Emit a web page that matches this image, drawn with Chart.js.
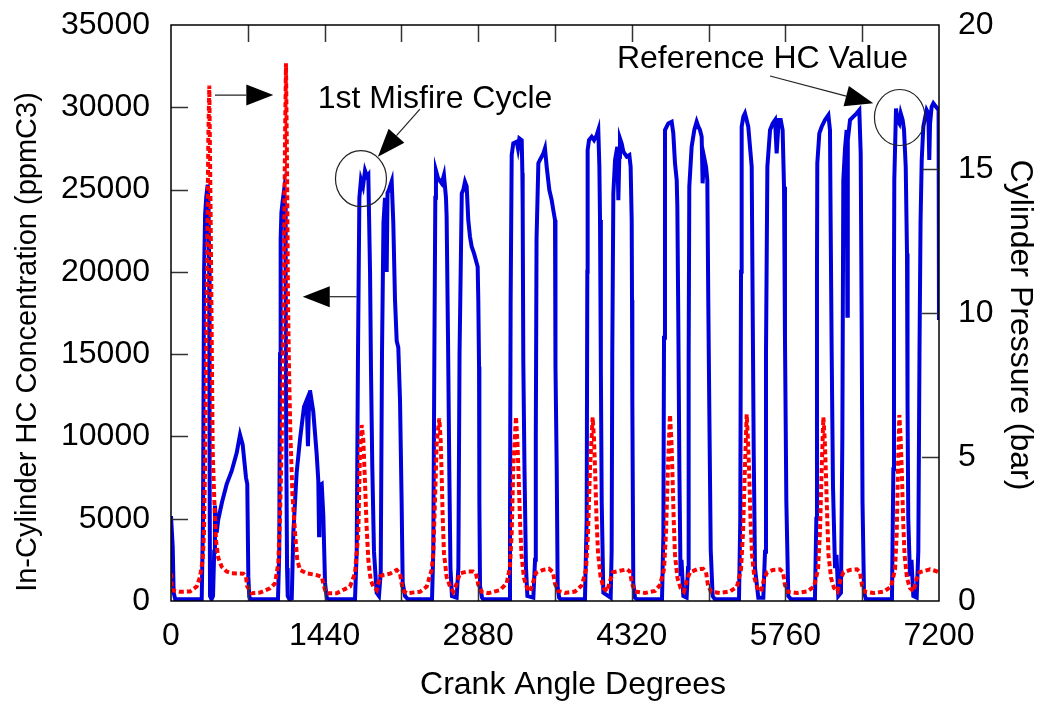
<!DOCTYPE html>
<html>
<head>
<meta charset="utf-8">
<script src="https://cdn.jsdelivr.net/npm/chart.js@4.4.1/dist/chart.umd.min.js"></script>
<style>
  html, body { margin: 0; padding: 0; background: #fff; }
</style>
</head>
<body>
<canvas id="hcChart" width="1039" height="703"></canvas>
<script>
"use strict";

// HC concentration trace [crank angle deg, ppmC3]
const hcPoints = [
  [0,5160],[16,3300],[25,500],[40,100],[288,100],[300,5000],[310,20000],[320,23500],[330,24500],[344,25300],[352,24000],[358,20000],[362,8000],[366,300],[380,100],[394,300],[405,3000],[412,5800],[428,4150],[443,4950],[478,6000],[522,7100],[569,7900],[616,9000],[647,10100],[672,9500],[703,7500],[715,7100],[725,1480],[734,250],[750,100],
  [1003,100],[1015,3000],[1022,15000],[1028,22000],[1035,23600],[1045,24200],[1059,24900],[1069,24000],[1075,20000],[1080,10000],[1088,2000],[1094,300],[1110,100],[1132,150],[1147,4150],[1178,7800],[1209,9800],[1247,11800],[1272,12200],[1284,9400],[1294,12000],[1303,12800],[1334,11500],[1366,8900],[1381,7300],[1388,4000],[1392,7000],[1413,7100],[1428,5200],[1444,1100],[1460,200],[1480,100],
  [1725,100],[1741,3000],[1753,15000],[1766,24500],[1781,25600],[1800,25200],[1819,26150],[1838,25800],[1850,25900],[1866,20000],[1875,14000],[1887,8200],[1903,3000],[1928,500],[1950,300],[1966,1700],[1978,15000],[1992,23000],[2006,24500],[2022,20000],[2030,24800],[2044,25000],[2069,25500],[2084,23000],[2100,18300],[2116,15800],[2131,15400],[2147,12200],[2162,6100],[2172,1100],[2194,300],[2222,100],
  [2447,100],[2459,3000],[2470,16000],[2478,24500],[2484,26150],[2503,25700],[2538,25380],[2559,25880],[2578,24500],[2584,23350],[2597,16000],[2609,8000],[2620,2000],[2634,300],[2678,200],[2694,2000],[2705,15000],[2726,24770],[2741,25000],[2756,25480],[2772,25200],[2787,23150],[2803,22130],[2819,21530],[2841,21120],[2875,20310],[2881,18290],[2888,14240],[2891,6000],[2897,900],[2916,200],[2928,100],
  [3169,100],[3178,5000],[3184,18000],[3194,27100],[3209,27810],[3241,27910],[3253,27500],[3266,28110],[3288,28000],[3294,26000],[3297,23960],[3303,14500],[3314,8000],[3328,2000],[3341,300],[3397,200],[3413,2500],[3420,10000],[3427,22000],[3444,26600],[3459,26800],[3491,27200],[3506,27500],[3522,26390],[3547,24970],[3569,24360],[3584,23760],[3600,23150],[3603,18290],[3606,14240],[3616,8160],[3625,870],[3639,200],[3656,100],
  [3881,100],[3897,5000],[3903,20000],[3906,27400],[3919,28010],[3944,28210],[3966,28000],[3991,28310],[4006,28620],[4016,26390],[4022,23150],[4030,14000],[4038,6000],[4053,500],[4122,200],[4131,3000],[4137,15000],[4147,24770],[4163,26800],[4184,27600],[4194,24360],[4203,27000],[4209,28110],[4225,27800],[4241,27300],[4272,27000],[4297,27100],[4309,26390],[4319,23150],[4322,18290],[4325,12200],[4334,1100],[4350,200],[4369,100],
  [4603,100],[4616,4000],[4622,16000],[4631,28620],[4662,29020],[4694,29120],[4709,28420],[4725,26600],[4741,25580],[4747,23960],[4756,17070],[4766,8000],[4777,1500],[4786,2500],[4803,300],[4834,200],[4847,2000],[4853,15000],[4859,25170],[4881,27600],[4906,28620],[4928,29120],[4944,28820],[4959,28620],[4975,28210],[4984,25380],[4997,27000],[5016,26390],[5028,25580],[5037,18290],[5047,11400],[5060,3100],[5078,300],[5100,100],
  [5325,100],[5337,5000],[5344,20000],[5350,28820],[5366,29430],[5381,29630],[5397,29230],[5412,28820],[5428,27600],[5444,26390],[5453,18000],[5463,9000],[5475,2000],[5506,200],[5553,200],[5569,3000],[5578,15000],[5591,26390],[5616,28620],[5641,29020],[5663,29230],[5678,27200],[5697,29230],[5716,29230],[5734,28620],[5747,25170],[5756,16000],[5769,6000],[5787,300],[5813,100],
  [6037,100],[6050,5000],[6056,20000],[6059,26600],[6078,28420],[6100,28820],[6131,29230],[6163,29530],[6178,28620],[6184,23150],[6194,15000],[6206,7000],[6225,2000],[6239,2800],[6256,300],[6281,500],[6294,10000],[6303,25580],[6319,27500],[6334,28620],[6341,17330],[6345,28000],[6366,29230],[6397,29430],[6428,29630],[6453,29830],[6466,27200],[6475,17000],[6483,6000],[6497,500],[6516,100],
  [6759,100],[6772,8000],[6778,20000],[6781,25580],[6797,29930],[6809,29230],[6828,29020],[6841,29630],[6859,29230],[6872,28620],[6888,26390],[6900,21120],[6905,12000],[6912,5000],[6928,1500],[6942,2500],[6959,300],[6991,200],[7006,3000],[7017,15000],[7027,23000],[7038,26800],[7053,28820],[7084,29830],[7100,29630],[7109,26800],[7116,29000],[7131,30030],[7147,30240],[7172,30030],[7196,29830],[7200,17070]
];

// cylinder pressure trace [crank angle deg, bar]
const pressurePoints = [
  [0,0.96],[7,0.38],[84,0.32],[178,0.33],[241,0.5],[272,0.84],[297,1.42],[309,2.35],[319,4.66],[335,10.45],[350,16],[359,17.9],[372,13.2],[382,9.0],[391,5.2],[406,3.5],[422,2.1],[443,1.5],[475,1.19],[522,1.02],[569,0.96],[678,0.95],[703,0.84],[715,0.5],[757,0.27],[834,0.29],[928,0.44],[975,0.61],
  [1006,1.31],[1022,2.93],[1038,5.5],[1055,10],[1069,16],[1078,18.67],[1088,15],[1097,10.45],[1106,8.14],[1119,5.82],[1138,3.74],[1163,2.35],[1184,1.42],[1209,1.08],[1272,0.96],[1366,0.9],[1413,0.84],[1444,0.38],[1460,0.27],[1553,0.27],[1678,0.5],
  [1725,0.96],[1756,2.35],[1772,5.24],[1788,6.11],[1803,5.59],[1819,4.09],[1834,2.58],[1850,1.42],[1872,0.73],[1897,0.5],[1928,0.38],[1959,0.85],[1988,0.9],[2053,0.95],[2116,1.08],[2147,0.96],[2172,0.38],[2209,0.27],[2334,0.32],[2397,0.5],
  [2444,1.08],[2459,1.66],[2475,3.5],[2491,5.5],[2515,6.34],[2528,5.6],[2537,4.43],[2547,2.93],[2559,1.66],[2584,0.84],[2616,0.5],[2647,0.32],[2678,0.61],[2709,0.96],[2772,1.02],[2834,1.02],[2859,0.96],[2881,0.56],[2913,0.32],[2975,0.27],[3084,0.38],[3147,0.61],
  [3178,1.19],[3194,2.35],[3209,4.66],[3234,6.4],[3248,5.5],[3260,4.2],[3272,2.8],[3286,1.6],[3309,0.8],[3338,0.45],[3366,0.33],[3394,0.65],[3422,0.98],[3488,1.08],[3544,1.12],[3581,1.0],[3600,0.6],[3628,0.35],[3694,0.28],[3788,0.33],[3853,0.55],
  [3891,1.1],[3909,2.3],[3928,4.6],[3953,6.38],[3966,5.6],[3978,4.3],[3989,2.9],[4003,1.7],[4027,0.85],[4055,0.45],[4088,0.33],[4116,0.7],[4144,1.0],[4209,1.05],[4275,1.1],[4303,1.02],[4322,0.6],[4350,0.33],[4444,0.28],[4538,0.35],[4584,0.55],
  [4622,1.1],[4641,2.4],[4659,4.7],[4678,6.46],[4691,5.6],[4702,4.3],[4713,2.8],[4725,1.6],[4748,0.8],[4777,0.45],[4809,0.33],[4838,0.75],[4866,1.0],[4931,1.1],[4988,1.12],[5016,1.0],[5034,0.55],[5063,0.32],[5147,0.28],[5241,0.33],[5306,0.5],
  [5344,1.1],[5363,2.4],[5381,4.7],[5397,6.48],[5409,5.6],[5422,4.3],[5433,2.8],[5447,1.6],[5470,0.8],[5498,0.45],[5531,0.33],[5559,0.75],[5588,1.0],[5644,1.08],[5709,1.1],[5738,1.0],[5756,0.55],[5784,0.32],[5869,0.28],[5963,0.33],[6028,0.5],
  [6066,1.1],[6084,2.4],[6101,4.7],[6116,6.38],[6129,5.6],[6141,4.3],[6153,2.8],[6164,1.6],[6188,0.8],[6216,0.45],[6248,0.33],[6277,0.75],[6305,1.0],[6366,1.08],[6431,1.1],[6459,1.0],[6478,0.55],[6506,0.32],[6591,0.28],[6684,0.33],[6750,0.5],
  [6788,1.1],[6804,2.4],[6816,4.7],[6828,6.46],[6841,5.6],[6853,4.3],[6864,2.8],[6877,1.6],[6900,0.8],[6928,0.45],[6961,0.33],[6989,0.75],[7017,1.0],[7069,1.05],[7116,1.1],[7163,1.05],[7200,1.0]
];

// axis ticks
const xTickLabels = [0, 1440, 2880, 4320, 5760, 7200];
const xTickMarks = [720, 1440, 2160, 2880, 3600, 4320, 5040, 5760, 6480];
const hcTicks = [0, 5000, 10000, 15000, 20000, 25000, 30000, 35000];
const pressureTicks = [0, 5, 10, 15, 20];

const FONT = "'Liberation Sans', Arial, sans-serif";
const SIZE = 32;
Chart.defaults.font.family = FONT;
Chart.defaults.font.size = SIZE;
Chart.defaults.color = "#000";

let toXY = pts => pts.map(p => ({ x: p[0], y: p[1] }));
let setTicks = list => scale => { scale.ticks = list.map(v => ({ value: v })); };
let plain = v => String(v);
// fixed axis box sizes, no extra label overhang padding
let fixBox = (w, h) => s => {
  if (w) s.width = w;
  if (h) s.height = h;
  s.paddingTop = 0; s.paddingBottom = 0; s.paddingLeft = 0; s.paddingRight = 0;
};

// frame + inward tick marks
const frameMarks = {
  id: "frameMarks",
  afterDatasetsDraw(chart) {
    let { ctx, chartArea: a, scales } = chart;
    let len = 17;
    ctx.save();
    ctx.strokeStyle = "#333";
    ctx.lineWidth = 1.5;
    ctx.beginPath();
    for (let v of xTickMarks) {
      let x = Math.round(scales.x.getPixelForValue(v)) + 0.5;
      ctx.moveTo(x, a.bottom); ctx.lineTo(x, a.bottom - len);
      ctx.moveTo(x, a.top); ctx.lineTo(x, a.top + len);
    }
    for (let v of hcTicks.slice(1, -1)) {
      let y = Math.round(scales.y.getPixelForValue(v)) + 0.5;
      ctx.moveTo(a.left, y); ctx.lineTo(a.left + len, y);
    }
    for (let v of pressureTicks.slice(1, -1)) {
      let y = Math.round(scales.y2.getPixelForValue(v)) + 0.5;
      ctx.moveTo(a.right, y); ctx.lineTo(a.right - len, y);
    }
    ctx.stroke();
    ctx.strokeStyle = "#000";
    ctx.lineWidth = 1.5;
    ctx.strokeRect(a.left, a.top, a.right - a.left, a.bottom - a.top);
    ctx.restore();
  }
};

// axis titles, labels, circles and arrows
const notes = {
  id: "notes",
  afterDraw(chart) {
    let { ctx, scales, chartArea: a } = chart;
    let px = (deg, hc) => [scales.x.getPixelForValue(deg), scales.y.getPixelForValue(hc)];

    let arrow = (from, to, headLen, headHalf) => {
      let [x1, y1] = px(from[0], from[1]);
      let [x2, y2] = px(to[0], to[1]);
      let ang = Math.atan2(y2 - y1, x2 - x1);
      let bx = x2 - headLen * Math.cos(ang), by = y2 - headLen * Math.sin(ang);
      ctx.beginPath();
      ctx.moveTo(x1, y1); ctx.lineTo(bx, by);
      ctx.stroke();
      ctx.beginPath();
      ctx.moveTo(x2, y2);
      ctx.lineTo(bx + headHalf * Math.sin(ang), by - headHalf * Math.cos(ang));
      ctx.lineTo(bx - headHalf * Math.sin(ang), by + headHalf * Math.cos(ang));
      ctx.closePath();
      ctx.fill();
    };
    let ring = (c, rx, ry) => {
      let [x, y] = px(c[0], c[1]);
      ctx.beginPath();
      ctx.ellipse(x, y, rx, ry, 0, 0, Math.PI * 2);
      ctx.stroke();
    };
    let text = (str, x, y, size, rot) => {
      ctx.save();
      ctx.translate(x, y);
      ctx.rotate(rot || 0);
      ctx.font = size + "px " + FONT;
      ctx.fillText(str, 0, 0);
      ctx.restore();
    };

    ctx.save();
    ctx.strokeStyle = "#222";
    ctx.fillStyle = "#000";
    ctx.lineWidth = 1.2;

    arrow([412, 30740], [959, 30740], 27, 10.5);
    arrow([1741, 18490], [1235, 18490], 27, 10.5);
    arrow([2334, 29890], [1940, 27000], 28, 10.5);
    arrow([5616, 31900], [6584, 30250], 28, 10.5);

    ring([1781, 25660], 25.5, 28);
    ring([6832, 29380], 25.3, 28);

    ctx.textAlign = "center";
    ctx.textBaseline = "middle";
    let [tx, ty] = px(2475, 30500);
    text("1st Misfire Cycle", tx, ty, SIZE);
    [tx, ty] = px(5545, 32900);
    text("Reference HC Value", tx, ty, SIZE);

    // axis titles
    let midY = (a.top + a.bottom) / 2;
    text("Crank Angle Degrees", (a.left + a.right) / 2 + 18, a.bottom + 84, SIZE);
    text("In-Cylinder HC Concentration (ppmC3)", 28, midY + 29, 29, -Math.PI / 2);
    text("Cylinder Pressure (bar)", 1020, midY + 12, SIZE, Math.PI / 2);
    ctx.restore();
  }
};

let chart = new Chart(document.querySelector("#hcChart"), {
  type: "line",
  data: {
    datasets: [{
      label: "Cylinder Pressure",
      data: toXY(pressurePoints),
      yAxisID: "y2",
      borderColor: "#ff0000",
      borderWidth: 4,
      borderDash: [5, 3],
      pointRadius: 0,
      tension: 0
    }, {
      label: "In-Cylinder HC",
      data: toXY(hcPoints),
      yAxisID: "y",
      borderColor: "#0000dc",
      borderWidth: 4,
      pointRadius: 0,
      tension: 0
    }]
  },
  options: {
    responsive: false,
    animation: false,
    devicePixelRatio: 1,
    layout: { padding: { top: 25, left: 0, right: 0, bottom: 0 } },
    plugins: { legend: { display: false }, tooltip: { enabled: false } },
    scales: {
      x: {
        type: "linear", position: "bottom", min: 0, max: 7200,
        afterBuildTicks: setTicks(xTickLabels),
        afterFit: fixBox(0, 102),
        grid: { display: false, drawTicks: false },
        border: { display: false },
        ticks: { padding: 16, maxRotation: 0, autoSkip: false, callback: plain }
      },
      y: {
        type: "linear", position: "left", min: 0, max: 35000,
        afterBuildTicks: setTicks(hcTicks),
        afterFit: fixBox(171, 0),
        grid: { display: false, drawTicks: false },
        border: { display: false },
        ticks: { padding: 21, callback: plain }
      },
      y2: {
        type: "linear", position: "right", min: 0, max: 20,
        afterBuildTicks: setTicks(pressureTicks),
        afterFit: fixBox(100, 0),
        grid: { display: false, drawTicks: false },
        border: { display: false },
        ticks: { padding: 19, callback: plain }
      }
    }
  },
  plugins: [frameMarks, notes]
});
</script>
</body>
</html>
